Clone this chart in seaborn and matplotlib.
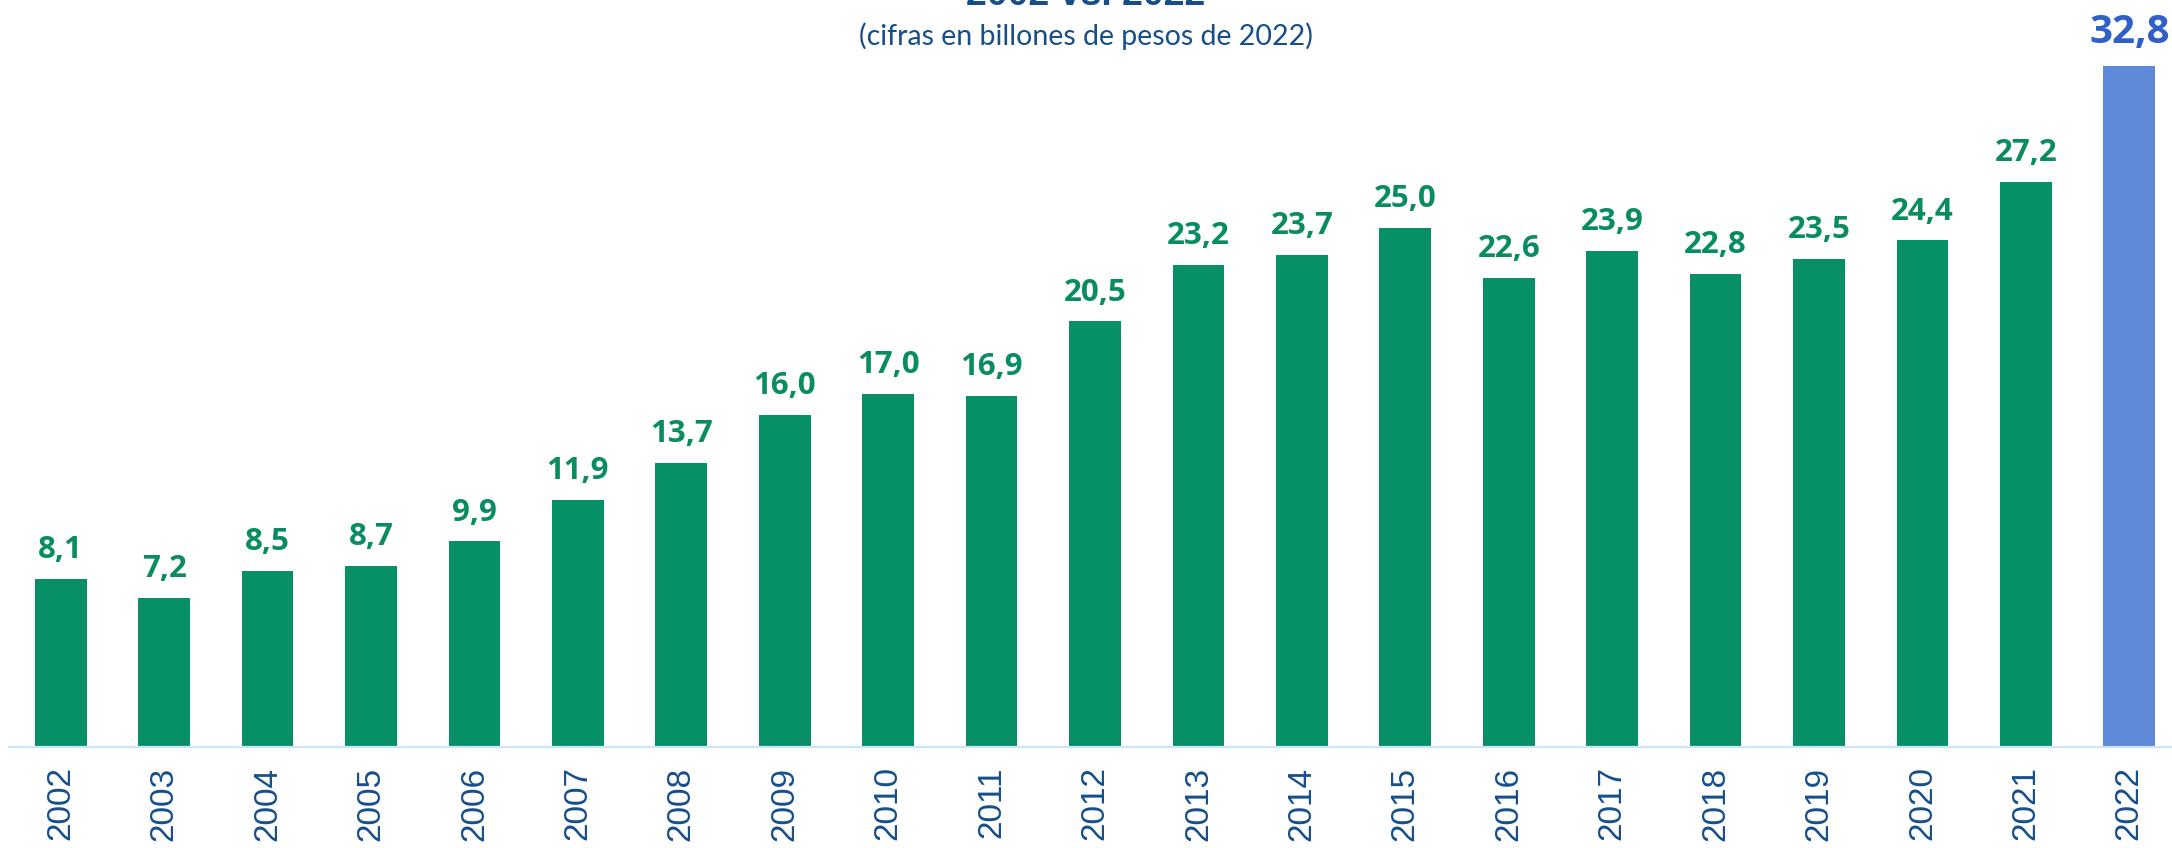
import matplotlib
matplotlib.use("Agg")
import matplotlib.pyplot as plt
import seaborn as sns
import pandas as pd

years = ["2002", "2003", "2004", "2005", "2006", "2007", "2008", "2009", "2010", "2011",
         "2012", "2013", "2014", "2015", "2016", "2017", "2018", "2019", "2020", "2021", "2022"]
values = [8.1, 7.2, 8.5, 8.7, 9.9, 11.9, 13.7, 16.0, 17.0, 16.9,
          20.5, 23.2, 23.7, 25.0, 22.6, 23.9, 22.8, 23.5, 24.4, 27.2, 32.8]
title = "2002 vs. 2022"
subtitle = "(cifras en billones de pesos de 2022)"

GREEN = "#079068"
BLUE = "#5E88D8"
GREEN_TXT = "#0A8C63"
BLUE_TXT = "#2F5FC7"
NAVY = "#154E89"

sns.set_theme(style="white")
plt.rcParams["font.family"] = ["Liberation Sans", "DejaVu Sans"]

W, H, DPI = 2172, 848, 100
fig = plt.figure(figsize=(W / DPI, H / DPI), dpi=DPI)
ax = fig.add_axes([9 / W, 101 / H, 1 - 9 / W, 747 / H])

df = pd.DataFrame({"year": years, "value": values})
colors = {y: (BLUE if y == years[-1] else GREEN) for y in years}
sns.barplot(data=df, x="year", y="value", hue="year", palette=colors, legend=False,
            width=0.5, saturation=1, ax=ax, linewidth=0)

ax.set_xlim(-0.5, 20.5 - 9 / 103.4)
ax.set_ylim(0, 747 / 20.76)
ax.set_xlabel("")
ax.set_ylabel("")
ax.set_yticks([])
for s in ["top", "left", "right"]:
    ax.spines[s].set_visible(False)
ax.spines["bottom"].set_color("#CDE5F7")
ax.spines["bottom"].set_linewidth(1.6)
ax.tick_params(axis="x", length=0, pad=14, labelsize=24, labelcolor=NAVY, rotation=90)

for i, (y, v) in enumerate(zip(years, values)):
    lab = f"{v:.1f}".replace(".", ",")
    if y == years[-1]:
        ax.annotate(lab, xy=(i, v), xytext=(0, 10), textcoords="offset points",
                    ha="center", va="bottom", fontsize=29, fontweight="bold",
                    color=BLUE_TXT, family=["Open Sans", "DejaVu Sans"])
    else:
        ax.annotate(lab, xy=(i, v), xytext=(0, 10), textcoords="offset points",
                    ha="center", va="bottom", fontsize=22.5, fontweight="bold",
                    color=GREEN_TXT, family=["Open Sans", "DejaVu Sans"])

fig.text(0.5, 1 - 5 / H, title, ha="center", va="baseline", fontsize=27,
         fontweight="bold", color=NAVY, family=["Liberation Sans", "DejaVu Sans"])
fig.text(0.5, 1 - 45 / H, subtitle, ha="center", va="baseline", fontsize=20.5,
         color=NAVY, family=["Lato", "Liberation Sans", "DejaVu Sans"])

fig.savefig("out.png", dpi=DPI)
